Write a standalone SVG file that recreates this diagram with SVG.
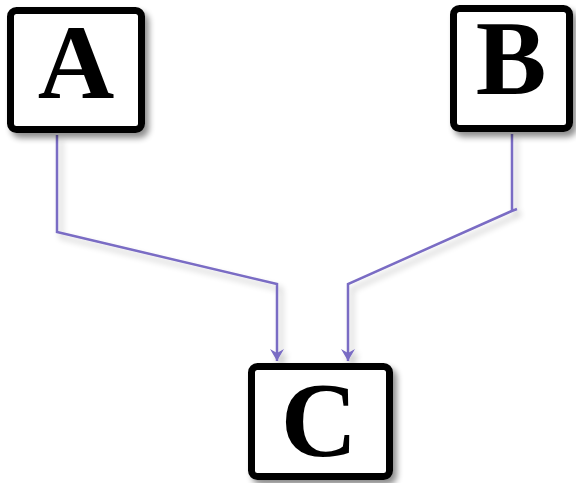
<svg xmlns="http://www.w3.org/2000/svg" width="576" height="483" viewBox="0 0 576 483">
<style>
.box{fill:#fff;stroke:#000;stroke-width:7}
.lbl{font-family:"Liberation Serif","Times New Roman",serif;font-weight:bold;font-size:106px;fill:#000;text-anchor:middle}
.conn{fill:none;stroke:#7a6cc4;stroke-width:2.5;stroke-linejoin:miter}
</style>
<defs>
<filter id="sh" x="-20%" y="-20%" width="150%" height="150%">
<feGaussianBlur in="SourceAlpha" stdDeviation="3"/>
<feOffset dx="4" dy="5" result="b"/>
<feComponentTransfer><feFuncA type="linear" slope="0.45"/></feComponentTransfer>
<feMerge><feMergeNode/><feMergeNode in="SourceGraphic"/></feMerge>
</filter>
<filter id="lsh" x="-20%" y="-20%" width="150%" height="150%">
<feGaussianBlur in="SourceAlpha" stdDeviation="3"/>
<feOffset dx="4" dy="5"/>
<feComponentTransfer><feFuncA type="linear" slope="0.25"/></feComponentTransfer>
<feMerge><feMergeNode/><feMergeNode in="SourceGraphic"/></feMerge>
</filter>
<marker id="arr" markerWidth="14" markerHeight="14" refX="12" refY="7" orient="auto" markerUnits="userSpaceOnUse" viewBox="0 0 14 14">
<path d="M0,0 L12,7 L0,14 L4,7 Z" fill="#7a6cc4"/>
</marker>
</defs>
<g id="connectors" filter="url(#lsh)">
<path class="conn" d="M57,135 V232 L277,284 V361" marker-end="url(#arr)"/>
<path class="conn" d="M512,134 V211 L517,209 M514,210 L348,284 V361" marker-end="url(#arr)"/>
</g>
<g id="A" filter="url(#sh)">
<rect class="box" x="10.5" y="10.5" width="131" height="119" rx="6"/>
<text class="lbl" x="76" y="98">A</text>
</g>
<g id="B" filter="url(#sh)">
<rect class="box" x="453.5" y="8.5" width="116" height="120" rx="6"/>
<text class="lbl" x="511" y="94">B</text>
</g>
<g id="C" filter="url(#sh)">
<rect class="box" x="251.5" y="366.5" width="138" height="110" rx="6"/>
<text class="lbl" x="319" y="456">C</text>
</g>
</svg>
